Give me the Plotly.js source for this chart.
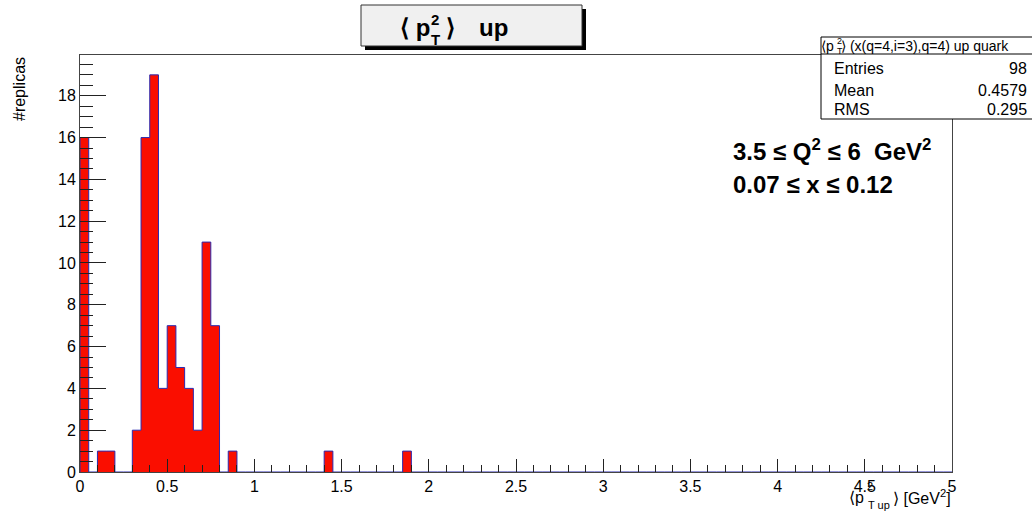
<!DOCTYPE html>
<html>
<head>
<meta charset="utf-8">
<script src="https://cdn.plot.ly/plotly-3.0.1.min.js"></script>
<style>html,body{margin:0;padding:0;background:#fff;}#chart{width:1032px;height:511px;}</style>
</head>
<body>
<div id="chart"></div>
<script>
// Histogram definition (ROOT TH1: 100 bins on [0,5])
const nBins = 100;
const xLow = 0;
const xHigh = 5;
// Non-empty bins: lower edge of bin and its count
const binLowEdges = [0.00, 0.10, 0.15, 0.30, 0.35, 0.40, 0.45, 0.50, 0.55, 0.60, 0.65, 0.70, 0.75, 0.85, 1.40, 1.85];
const binCounts   = [16,   1,    1,    2,    16,   19,   4,    7,    5,    4,    2,    11,   7,    1,    1,    1];
// Stats box
const statsTitle = "(x(q=4,i=3),q=4) up quark";
const statsLabels = ["Entries", "Mean", "RMS"];
const statsValues = ["98", "0.4579", "0.295"];
// Axis ticks
const xTickVals = [0, 0.5, 1, 1.5, 2, 2.5, 3, 3.5, 4, 4.5, 5];
const xTickText = ["0", "0.5", "1", "1.5", "2", "2.5", "3", "3.5", "4", "4.5", "5"];
const yTickVals = [0, 2, 4, 6, 8, 10, 12, 14, 16, 18];
const yTickText = ["0", "2", "4", "6", "8", "10", "12", "14", "16", "18"];
const yMax = 19.95;

// Build full bin content and the step outline
const bw = (xHigh - xLow) / nBins;
const content = new Array(nBins).fill(0);
binLowEdges.forEach((e, k) => { content[Math.round((e - xLow) / bw)] = binCounts[k]; });
const stepX = [xLow], stepY = [0];
for (let i = 0; i < nBins; i++) { stepX.push(xLow + i * bw); stepY.push(content[i]); }
stepX.push(xHigh); stepY.push(0);

// Pixel helpers for decorations (plot area: l=80, r=80, t=55, b=39)
const L = 80, T = 55, W = 872, H = 417;
const px = x => (x - L) / W;
const py = y => (T + H - y) / H;
const FONT = "Liberation Sans, Arial, Helvetica, sans-serif";

const trace = {
  x: stepX, y: stepY, type: "scatter", mode: "lines",
  line: {shape: "hv", color: "#2a2ab0", width: 1},
  fill: "tozeroy", fillcolor: "rgb(250,14,0)",
  hoverinfo: "skip"
};

function ann(text, x, y, size, xanchor, opts) {
  return Object.assign({
    text: text, xref: "paper", yref: "paper", x: px(x), y: py(y),
    xanchor: xanchor, yanchor: "middle", showarrow: false,
    font: {family: FONT, size: size, color: "#000"}
  }, opts || {});
}

const annotations = [
  // title pieces
  ann("<b>⟨ p</b>", 432, 28, 24, "right"),
  ann("<b>2</b>", 429, 19, 15, "left"),
  ann("<b>T</b>", 429, 39, 15, "left"),
  ann("<b>⟩</b>", 444, 28, 24, "left"),
  ann("<b>up</b>", 477, 28, 24, "left"),
  // stats header
  ann("⟨p", 836, 46, 14, "right"),
  ann("2", 835, 41, 9, "left"),
  ann("T", 835, 51, 9, "left"),
  ann("⟩ " + statsTitle, 839, 46, 14, "left"),
  // text
  ann("<b>3.5 ≤ Q<sup>2</sup> ≤ 6  GeV<sup>2</sup></b>", 731, 150, 24, "left"),
  ann("<b>0.07 ≤ x ≤ 0.12</b>", 731, 185, 24, "left"),
  // y title
  ann("#replicas", 19, 89, 16, "center", {textangle: -90}),
  // x title
  ann("⟨p", 866, 497, 16, "right"),
  ann("2", 865, 486, 11, "left"),
  ann("T up", 866, 505, 11, "left"),
  ann("⟩ [GeV<sup>2</sup>]", 953, 497, 16, "right")
];
statsLabels.forEach((lab, k) => {
  const yy = [68, 90, 110][k];
  annotations.push(ann(lab, 832, yy, 16, "left"));
  annotations.push(ann(statsValues[k], 1029, yy, 16, "right"));
});

const shapes = [
  // title box shadow + box
  {type: "rect", xref: "paper", yref: "paper", x0: px(365), x1: px(586), y0: py(9), y1: py(50),
   fillcolor: "#000", line: {width: 0}},
  {type: "rect", xref: "paper", yref: "paper", x0: px(361), x1: px(582), y0: py(5), y1: py(46),
   fillcolor: "#f0f0f0", line: {color: "#333", width: 1}},
  // stats box
  {type: "rect", xref: "paper", yref: "paper", x0: px(821), x1: px(1040), y0: py(37), y1: py(119),
   fillcolor: "#fff", line: {color: "#000", width: 1}},
  {type: "line", xref: "paper", yref: "paper", x0: px(821), x1: px(1040), y0: py(54), y1: py(54),
   line: {color: "#000", width: 1}}
];

const layout = {
  width: 1032, height: 511,
  margin: {l: L, r: 1032 - L - W, t: T, b: 511 - T - H, pad: 0},
  paper_bgcolor: "#fff", plot_bgcolor: "#fff",
  showlegend: false,
  font: {family: FONT, size: 16, color: "#000"},
  xaxis: {
    range: [xLow, xHigh], tickmode: "array", tickvals: xTickVals, ticktext: xTickText,
    ticks: "inside", ticklen: 13, tickcolor: "#222", tickwidth: 1,
    minor: {dtick: 0.1, tick0: 0, ticks: "inside", ticklen: 7, tickcolor: "#222", tickwidth: 1},
    showline: true, linecolor: "#444", linewidth: 1, mirror: true,
    showgrid: false, zeroline: false, tickfont: {family: FONT, size: 16, color: "#000"}
  },
  yaxis: {
    range: [0, yMax], tickmode: "array", tickvals: yTickVals, ticktext: yTickText,
    ticks: "inside", ticklen: 26, tickcolor: "#222", tickwidth: 1,
    minor: {dtick: 0.5, tick0: 0, ticks: "inside", ticklen: 13, tickcolor: "#222", tickwidth: 1},
    showline: true, linecolor: "#444", linewidth: 1, mirror: true,
    showgrid: false, zeroline: false, tickfont: {family: FONT, size: 16, color: "#000"}
  },
  shapes: shapes,
  annotations: annotations
};

Plotly.newPlot("chart", [trace], layout, {displayModeBar: false, staticPlot: true});
</script>
</body>
</html>
